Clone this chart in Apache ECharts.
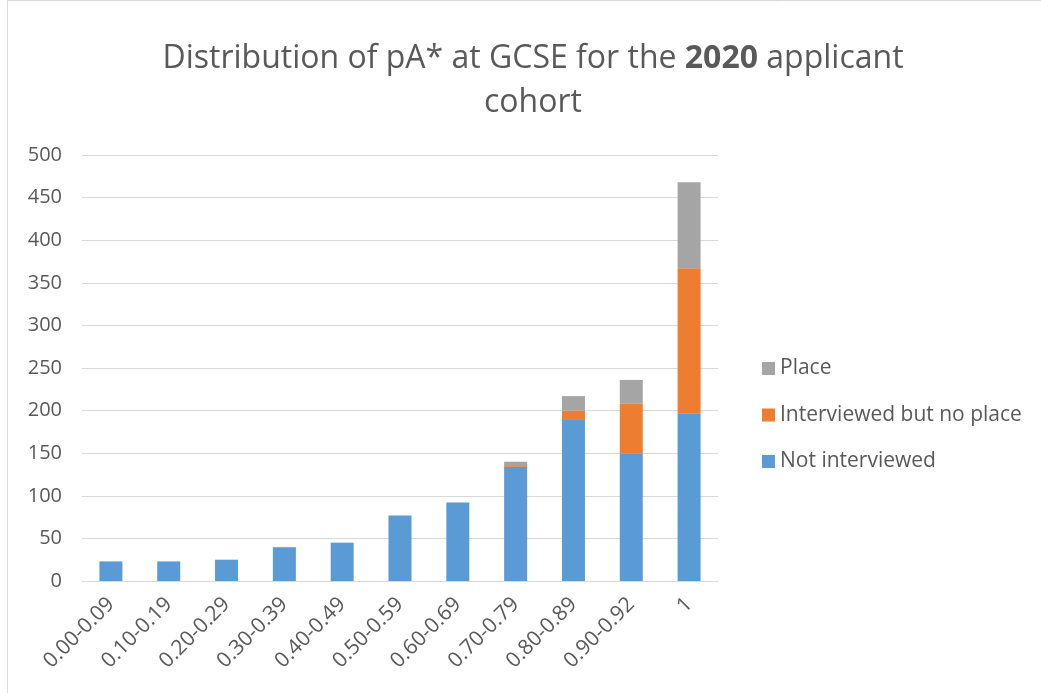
<!DOCTYPE html>
<html>
<head>
<meta charset="utf-8">
<script src="https://cdn.jsdelivr.net/npm/echarts@6/dist/echarts.min.js"></script>
<style>
  html, body { margin: 0; padding: 0; background: #fff; }
  #chart { width: 1041px; height: 693px; }
</style>
</head>
<body>
<div id="chart"></div>
<script>
  // bins of pA* at GCSE
  var categories = ['0.00-0.09', '0.10-0.19', '0.20-0.29', '0.30-0.39', '0.40-0.49',
    '0.50-0.59', '0.60-0.69', '0.70-0.79', '0.80-0.89', '0.90-0.92', '1'];
  var notInterviewed = [23, 23, 25, 39, 45, 77, 92, 134, 189, 150, 197];
  var interviewedNoPlace = [0, 0, 0, 1, 0, 0, 0, 2, 11, 58, 170];
  var place = [0, 0, 0, 0, 0, 0, 0, 4, 17, 28, 101];
  var yTicks = [0, 500, 50]; // min, max, interval

  var FONT = '"Open Sans", "Noto Sans", sans-serif';
  var TXT = '#595959';

  var chart = echarts.init(document.getElementById('chart'));

  function bar(name, data, color) {
    return {
      name: name,
      type: 'bar',
      stack: 'total',
      barWidth: 23,
      itemStyle: { color: color },
      data: data
    };
  }

  chart.setOption({
    animation: false,
    textStyle: { fontFamily: FONT },
    graphic: [{
      type: 'rect',
      shape: { x: 7.5, y: 0.5, width: 1040, height: 700 },
      style: { fill: 'none', stroke: '#d9d9d9', lineWidth: 1 },
      silent: true
    }],
    title: {
      text: 'Distribution of pA* at GCSE for the {b|2020} applicant\ncohort',
      left: 528,
      textAlign: 'center',
      top: 32,
      textStyle: {
        fontFamily: FONT,
        fontSize: 32,
        fontWeight: 'normal',
        color: TXT,
        lineHeight: 44,
        rich: {
          b: { fontFamily: FONT, fontSize: 32, fontWeight: 'bold', color: TXT, lineHeight: 44 }
        }
      }
    },
    legend: {
      orient: 'vertical',
      left: 757,
      top: 353,
      itemWidth: 13,
      itemHeight: 13,
      itemGap: 25.5,
      icon: 'rect',
      data: ['Place', 'Interviewed but no place', 'Not interviewed'],
      textStyle: { fontFamily: FONT, fontSize: 21, lineHeight: 20, color: TXT }
    },
    grid: { left: 82, right: 323, top: 155, bottom: 112 },
    xAxis: {
      type: 'category',
      data: categories,
      axisLine: { lineStyle: { color: '#d9d9d9', width: 1 } },
      axisTick: { show: false },
      axisLabel: {
        rotate: 45,
        margin: 20,
        interval: 0,
        fontFamily: FONT,
        fontSize: 21,
        color: TXT
      }
    },
    yAxis: {
      type: 'value',
      min: yTicks[0],
      max: yTicks[1],
      interval: yTicks[2],
      axisLine: { show: false },
      axisTick: { show: false },
      splitLine: { lineStyle: { color: '#d9d9d9', width: 1 } },
      axisLabel: { margin: 20, fontFamily: FONT, fontSize: 20, color: TXT }
    },
    series: [
      bar('Not interviewed', notInterviewed, '#5b9bd5'),
      bar('Interviewed but no place', interviewedNoPlace, '#ed7d31'),
      bar('Place', place, '#a5a5a5')
    ]
  });
</script>
</body>
</html>
